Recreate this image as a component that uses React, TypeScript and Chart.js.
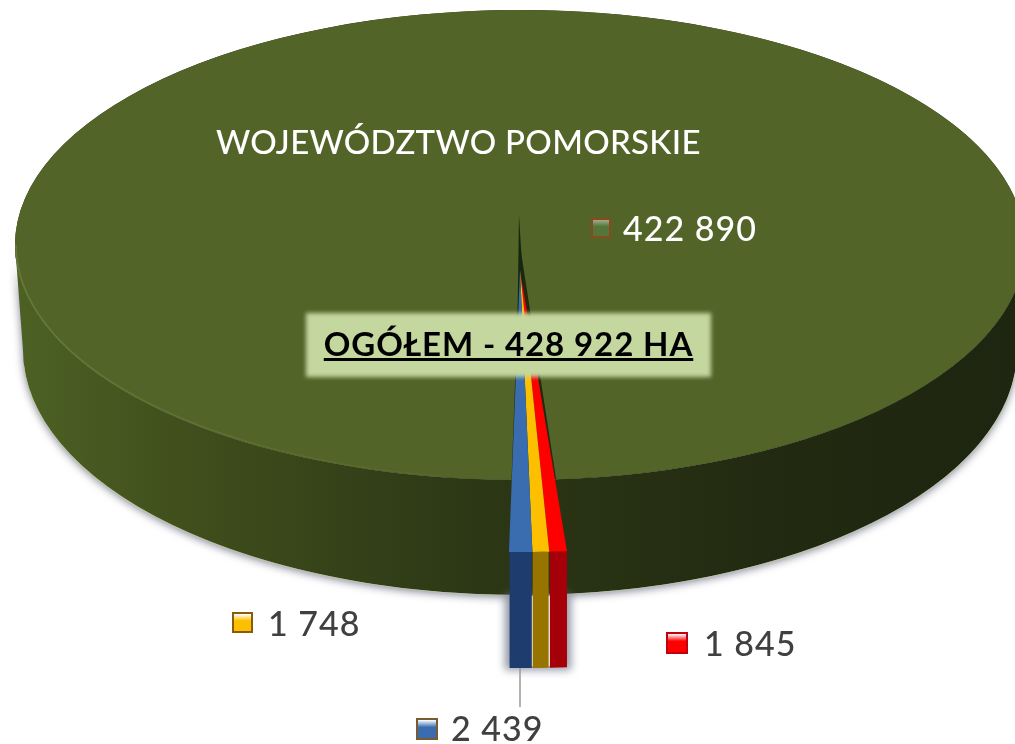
import React, { useEffect, useRef } from "react";
import { Chart, registerables } from "chart.js";

Chart.register(...registerables);

const categories = ["Czerwony", "Żółty", "Niebieski", "Województwo pomorskie"];
const seriesValues = [1845, 1748, 2439, 422890];
const topColors = ["#fe0000", "#fdc000", "#3a6db0", "#536428"];
const sideColors = ["#a50009", "#977300", "#1f3c6e"];
const title = "WOJEWÓDZTWO POMORSKIE";
const totalLabel = "OGÓŁEM - 428 922 HA";

const fmt = (v: number) => String(v).replace(/\B(?=(\d{3})+$)/g, " ");

const pie3d = {
  id: "pie3d",
  beforeDatasetsDraw(chart: any) {
    const ctx: CanvasRenderingContext2D = chart.ctx;
    const els = chart.getDatasetMeta(0).data;
    const green = els[3];
    const R = green.outerRadius;
    const cx = 520, cy = 245, ry = 235;
    const lowCy = 350, lowRx = 497, lowRy = 245;

    // green side wall
    ctx.save();
    const g = ctx.createLinearGradient(15, 0, 1015, 0);
    g.addColorStop(0, "#4d6124");
    g.addColorStop(0.18, "#3f4e1c");
    g.addColorStop(0.45, "#2d3816");
    g.addColorStop(0.75, "#222a11");
    g.addColorStop(1, "#1e2510");
    ctx.shadowColor = "rgba(95,95,120,0.8)";
    ctx.shadowBlur = 9;
    ctx.shadowOffsetY = 2;
    ctx.fillStyle = g;
    ctx.beginPath();
    ctx.ellipse(cx, lowCy, lowRx, lowRy, 0, Math.PI, 0, true);
    ctx.lineTo(cx + R, cy);
    ctx.ellipse(cx, cy, R, ry, 0, 0, Math.PI, false);
    ctx.closePath();
    ctx.fill();
    ctx.restore();

    // pale rim of lower edge
    ctx.save();
    ctx.strokeStyle = "rgba(190,200,170,0.8)";
    ctx.lineWidth = 1.2;
    ctx.beginPath();
    ctx.ellipse(cx, lowCy, lowRx + 0.5, lowRy + 0.5, 0, Math.PI * 0.98, Math.PI * 0.02, true);
    ctx.stroke();
    ctx.restore();

    // dark base under the top surface
    ctx.save();
    ctx.fillStyle = "#1f2a10";
    ctx.beginPath();
    ctx.ellipse(cx, cy, R, ry, 0, 0, Math.PI * 2);
    ctx.fill();
    ctx.restore();

    // green top surface
    ctx.save();
    ctx.translate(cx, cy);
    ctx.scale(1, ry / R);
    ctx.translate(-green.x, -green.y);
    green.draw(ctx);
    ctx.restore();

    // rim highlight, left side
    ctx.save();
    const rg = ctx.createLinearGradient(15, 0, 600, 0);
    rg.addColorStop(0, "rgba(110,135,60,0.7)");
    rg.addColorStop(0.6, "rgba(105,125,55,0.25)");
    rg.addColorStop(1, "rgba(105,125,55,0)");
    ctx.strokeStyle = rg;
    ctx.lineWidth = 1.5;
    ctx.beginPath();
    ctx.ellipse(cx, cy, R - 1, ry - 1, 0, Math.PI, Math.PI * 0.55, true);
    ctx.stroke();
    ctx.restore();

    const colored = els.slice(0, 3);
    const first = colored[0];
    const last = colored[2];

    // dark sliver above the wedge
    ctx.save();
    ctx.fillStyle = "#14280f";
    ctx.beginPath();
    const sx = 519, sy = 215, sr = 105;
    ctx.moveTo(sx, sy);
    ctx.lineTo(sx + sr * Math.cos(first.startAngle) * 1.6 / 1.9, sy + sr);
    ctx.lineTo(sx + sr * Math.cos(last.endAngle) * 1.6 / 1.9, sy + sr);
    ctx.closePath();
    ctx.fill();
    ctx.restore();

    // exploded wedge
    const ax = 520, ay = 270;
    const kx = 657 / R, ky = 282 / R;
    const depth = 116;
    const px = (el: any, a: number) => ax + Math.cos(a) * el.outerRadius * kx;
    const py = (el: any, a: number) => ay + Math.sin(a) * el.outerRadius * ky;

    // soft shadow behind the wedge wall
    const lx = px(last, last.endAngle), rx = px(first, first.startAngle);
    ctx.save();
    ctx.filter = "blur(4px)";
    ctx.fillStyle = "rgba(110,115,135,0.75)";
    ctx.fillRect(lx - 4, 594, rx - lx + 8, 76);
    ctx.filter = "none";
    ctx.fillStyle = "#ffffff";
    ctx.fillRect(lx + 2, 596, rx - lx - 4, 70);
    ctx.restore();

    colored.forEach((el: any, i: number) => {
      ctx.save();
      ctx.fillStyle = sideColors[i];
      const a1 = el.startAngle, a2 = el.endAngle;
      const x1 = px(el, a1) - (i === 0 ? 0 : 0.6), x2 = px(el, a2) + (i === 1 ? 0.2 : 0.6);
      const y1 = py(el, a1), y2 = py(el, a2);
      ctx.beginPath();
      ctx.moveTo(x1, y1);
      ctx.lineTo(x2, y2);
      ctx.lineTo(x2, y2 + depth);
      ctx.lineTo(x1, y1 + depth);
      ctx.closePath();
      ctx.fill();
      ctx.restore();
    });

    colored.forEach((el: any) => {
      ctx.save();
      ctx.translate(ax, ay);
      ctx.scale(kx, ky);
      ctx.translate(-el.x, -el.y);
      el.draw(ctx);
      ctx.restore();
    });

    // leader line for the blue slice
    ctx.save();
    ctx.strokeStyle = "#9a9a9a";
    ctx.lineWidth = 1.5;
    ctx.beginPath();
    ctx.moveTo(520, 668);
    ctx.lineTo(520, 707);
    ctx.stroke();
    ctx.restore();

    return false;
  },
};

type Lab = { value: number; left: number; top: number; mx: number; my: number; ms: number; color: string; marker: string; border: string };
const labels: Lab[] = [
  { value: seriesValues[3], left: 623, top: 208, mx: 591, my: 218, ms: 20, color: "#ffffff", marker: "#55763a", border: "#8a4a1c" },
  { value: seriesValues[1], left: 268, top: 603, mx: 232, my: 612, ms: 21, color: "#404040", marker: "#fdc000", border: "#8a5a10" },
  { value: seriesValues[0], left: 704, top: 623, mx: 666, my: 632, ms: 22, color: "#404040", marker: "#fe0000", border: "#c00010" },
  { value: seriesValues[2], left: 451, top: 708, mx: 416, my: 718, ms: 22, color: "#404040", marker: "#3a6db0", border: "#7a5a30" },
];

const font = "Lato, 'Open Sans', sans-serif";

export default function App() {
  const ref = useRef<HTMLCanvasElement>(null);
  useEffect(() => {
    document.body.style.margin = "0";
    document.body.style.background = "#ffffff";
    const chart = new Chart(ref.current as HTMLCanvasElement, {
      type: "pie",
      data: {
        labels: categories,
        datasets: [{ data: seriesValues, backgroundColor: topColors, borderWidth: 0 }],
      },
      options: {
        animation: false,
        responsive: false,
        events: [],
        rotation: 175.9,
        radius: 505,
        plugins: { legend: { display: false }, tooltip: { enabled: false } },
      } as any,
      plugins: [pie3d as any],
    });
    return () => chart.destroy();
  }, []);
  return (
    <div style={{ position: "relative", width: 1015, height: 744, overflow: "hidden", fontFamily: font, filter: "blur(0.5px)" }}>
      <canvas ref={ref} width={1015} height={744} style={{ position: "absolute", left: 0, top: 0, display: "block" }} />
      <div style={{ position: "absolute", left: 216, top: 121, fontSize: 33, lineHeight: "40px", fontWeight: 500, color: "#fff", whiteSpace: "nowrap", letterSpacing: 0.3 }}>{title}</div>
      <div style={{ position: "absolute", left: 306, top: 313, width: 405, height: 64, background: "#c4d79f", filter: "blur(2px)" }} />
      <div style={{ position: "absolute", left: 305, top: 324, width: 407, textAlign: "center", fontSize: 33, lineHeight: "38px", fontWeight: 700, color: "#000", textDecoration: "underline", whiteSpace: "nowrap", letterSpacing: 0.9 }}>{totalLabel}</div>
      {labels.map((l) => (
        <React.Fragment key={l.value}>
          <div style={{ position: "absolute", left: l.mx, top: l.my, width: l.ms, height: l.ms, boxSizing: "border-box", border: `2px solid ${l.border}`, background: `linear-gradient(180deg, #ffffff77 0%, ${l.marker} 40%, ${l.marker} 100%)` }} />
          <div style={{ position: "absolute", left: l.left, top: l.top, fontSize: 34, lineHeight: "40px", fontWeight: 500, color: l.color, whiteSpace: "nowrap", letterSpacing: 1 }}>{fmt(l.value)}</div>
        </React.Fragment>
      ))}
    </div>
  );
}
